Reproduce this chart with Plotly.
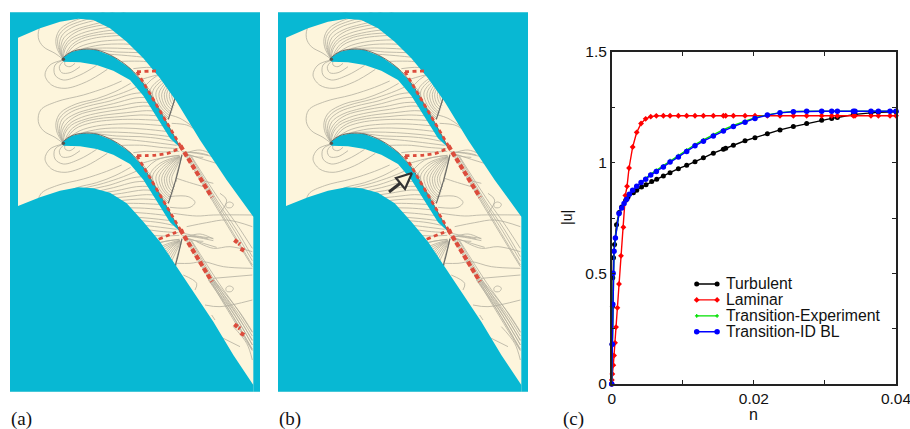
import plotly.graph_objects as go

# ---------- chart (c) data ----------
n_turb = [0,.00005,.0001,.00015,.00025,.0004,.00068,.00105,.0014,.00197,.0023,.00305,.00352,.0042,.00483,.00563,.00633,.00727,.00821,.00938,.01055,.01172,.0129,.0143,.01571,.01604,.01712,.01876,.02016,.0219,.02368,.02556,.02743,.02954,.03095,.03175,.034,.03423,.03648,.03752,.04]
u_turb = [0,.18,.35,.48,.57,.63,.72,.775,.80,.83,.845,.864,.875,.89,.90,.915,.925,.94,.955,.973,.988,1.004,1.022,1.043,1.061,1.065,1.079,1.099,1.113,1.131,1.148,1.163,1.177,1.192,1.2,1.204,1.217,1.218,1.225,1.228,1.23]
n_lam = [0,.00002,.00009,.00023,.00033,.00047,.00061,.0008,.00103,.00131,.00164,.00192,.00216,.00244,.00295,.00352,.00413,.00478,.00549,.00628,.00727,.00821,.00938,.01055,.01172,.0129,.0143,.01571,.01604,.01712,.01876,.02016,.0219,.02368,.02556,.02743,.02954,.03095,.03175,.034,.03423,.03648,.03752,.03916,.04]
u_lam = [0,.018,.045,.085,.129,.186,.257,.344,.452,.579,.708,.852,.893,.976,1.071,1.137,1.177,1.198,1.208,1.2115,1.212,1.212,1.212,1.212,1.212,1.212,1.212,1.212,1.212,1.212,1.212,1.212,1.212,1.212,1.212,1.212,1.212,1.212,1.212,1.212,1.212,1.212,1.212,1.212,1.212]
n_trans = [0,.00008,.00015,.0002,.00033,.00052,.00103,.00141,.00174,.00211,.00249,.00295,.00352,.00413,.00478,.00549,.00628,.00727,.00821,.00938,.01055,.01172,.0129,.0143,.01571,.01712,.01876,.02016,.0219,.02368,.02556,.02743,.02954,.03095,.03175,.034,.03423,.03648,.03752,.03916,.04]
u_blue = [0,.18,.36,.5,.6,.66,.77,.795,.816,.835,.857,.875,.893,.91,.925,.944,.96,.98,1.003,1.026,1.051,1.076,1.097,1.121,1.143,1.163,1.183,1.2,1.215,1.225,1.23,1.232,1.232,1.232,1.232,1.232,1.232,1.232,1.232,1.232,1.232]
u_green = [0,.18,.36,.5,.6,.66,.77,.795,.816,.835,.857,.875,.893,.91,.928,.948,.965,.986,1.009,1.032,1.057,1.082,1.103,1.127,1.149,1.168,1.187,1.203,1.216,1.226,1.231,1.233,1.233,1.233,1.233,1.233,1.233,1.233,1.233,1.233,1.233]
x_ticks = [0,.01,.02,.03,.04]
x_labels = ["0","","0.02","","0.04"]
y_ticks = [0,.25,.5,.75,1,1.25,1.5]
y_labels = ["0","","0.5","","1","","1.5"]
legend_names = ["Turbulent","Laminar","Transition-Experiment","Transition-ID BL"]

# ---------- flow-field panels (3x picture units) ----------
domain_upper = [(54,113),(120,85),(180,65),(235,56),(280,60),(330,85),(380,125),(430,175),(480,235),(530,305),(600,420),(680,540),(760,650)]
domain_lower = [(54,618),(120,592),(180,572),(235,562),(280,565),(330,578),(380,610),(430,665),(480,725),(530,800),(580,875),(640,965),(700,1065),(760,1155)]
blade_upper = [(190,172),(215,155),(250,148),(290,150),(340,170),(390,205),(430,250),(470,315),(510,385),(542,445)]
blade_lower = [(510,415),(470,352),(430,287),(390,240),(340,212),(290,195),(240,187),(190,185)]
pitch = 252

# repeated in every passage, shifted by one pitch
fan_lines = [
 [(190,430),(165,412),(130,392),(115,365),(122,330),(170,305),(250,285),(320,262),(365,243)],
 [(190,430),(172,400),(168,368),(182,338),(228,312),(290,296),(345,275),(392,250)],
 [(190,430),(175,395),(175,362),(198,335),(245,315),(310,298),(370,278),(408,262)],
 [(190,430),(178,395),(185,360),(215,335),(265,318),(330,303),(395,282),(425,278)],
 [(190,430),(182,398),(192,365),(225,342),(280,325),(340,311),(405,294),(438,292)],
 [(190,430),(185,400),(200,370),(235,345),(290,330),(350,320),(410,308),(450,307)],
 [(190,430),(190,402),(208,372),(245,352),(300,338),(365,328),(430,318),(460,320)],
 [(190,430),(195,400),(215,375),(255,358),(310,346),(380,338),(440,332),(470,334)],
 [(192,428),(210,392),(245,368),(295,356),(360,350),(420,345),(480,348)],
 [(195,424),(225,387),(275,368),(335,360),(400,358),(490,362)],
 [(205,414),(240,392),(290,378),(355,372),(420,372),(498,378)],
 [(225,404),(300,387),(370,384),(440,388),(505,395)],
 [(250,398),(320,396),(385,398),(450,403),(512,410)],
 [(285,400),(350,408),(420,410),(480,416),(520,424)],
 [(320,414),(395,420),(450,426),(530,436)],
 [(365,436),(430,436),(480,442),(535,446)],
 [(400,458),(440,454),(490,456),(538,454)],
]
fan_shock = [
 [(540,468),(480,490),(450,525),(465,565),(505,610)],
 [(540,470),(488,492),(458,528),(472,568),(507,606)],
 [(540,470),(495,495),(468,530),(480,570),(510,600)],
 [(540,470),(500,498),(477,532),(488,570),(513,595)],
 [(540,470),(505,500),(485,535),(495,570),(515,590)],
 [(541,471),(510,503),(493,535),(502,568),(518,582)],
 [(542,472),(515,505),(500,535),(508,565),(520,575)],
 [(543,473),(520,508),(508,535),(514,560),(523,568)],
 [(543,474),(525,510),(515,535),(520,555),(525,560)],
 [(544,476),(532,515),(528,535),(530,545)],
 [(538,466),(470,480),(435,510)],
 [(538,466),(480,475),(425,490)],
 [(420,485),(440,510),(445,545),(470,590)],
 [(432,505),(455,530),(458,565),(485,610)],
]
le_loops = [
 [(190,180),(150,195),(135,225),(155,255),(195,265),(260,245),(322,208)],
 [(190,180),(165,195),(165,225),(190,240),(240,225),(290,196)],
 [(192,182),(178,200),(185,218),(210,218),(240,200)],
 [(195,182),(195,195),(210,200),(225,190)],
]
wake_lines = [
 [(556,465),(636,600),(696,700),(757,800)],
 [(560,465),(640,600),(700,700),(757,795)],
 [(565,465),(645,600),(705,695),(757,782)],
 [(570,465),(650,600),(710,690),(757,770)],
 [(575,470),(655,595),(715,680),(757,745)],
 [(545,455),(590,460),(640,470)],
 [(550,457),(592,458),(625,465)],
 [(555,460),(600,450),(640,465)],
 [(550,458),(610,478),(650,490)],
 [(552,462),(585,470),(610,472)],
]
far_lines = [
 [(510,345),(540,355),(585,385)],
 [(515,370),(560,375),(580,385)],
 [(505,590),(565,590),(585,607),(570,622),(510,622)],
 [(520,640),(590,648),(640,645),(760,645)],
 [(678,612),(688,606),(700,612),(695,622),(680,622),(678,612)],
 [(530,535),(560,545),(610,560)],
 [(600,540),(640,550)],
 [(660,580),(680,600),(660,640)],
]
last_lines = [
 [(550,700),(590,708),(640,715)],
 [(560,680),(620,668),(680,660),(757,680)],
 [(590,725),(640,745),(690,740),(757,755)],
 [(530,790),(570,790),(610,785),(670,800),(757,805)],
 [(550,825),(590,850),(585,870)],
 [(640,835),(757,825)],
 [(678,864),(688,858),(700,864),(695,874),(680,874),(678,864)],
 [(615,915),(660,920),(757,900)],
 [(635,945),(645,960)],
 [(660,1010),(720,1040)],
 [(625,840),(700,950),(757,1050)],
 [(628,840),(705,948),(757,1035)],
 [(632,838),(710,945),(757,1020)],
 [(636,838),(714,940),(757,1008)],
 [(640,838),(718,935),(757,995)],
 [(700,980),(740,1030),(757,1080)],
]
shock_line = [(546,464),(530,530),(505,610)]
red_long = [[(411,215),(541,437)],[(411,467),(541,689)]]
red_tail = [[(541,437),(636,592)],[(541,689),(636,845)]]
red_throat = [[(411,215),(468,213)],[(411,467),(470,465),(510,458),(548,438)],[(476,718),(520,700),(550,690)]]
red_clusters = [[(703,720),(720,733)],[(722,746),(736,754)],[(703,973),(720,986)],[(722,999),(736,1007)]]
le_points = [(190,178),(190,430)]
arrow_head = [(412,173),(396,178),(405,189),(412,173)]
arrow_tail = [(389,192),(400.5,183)]

TEAL = "#08b8d3"
CREAM = "#fdf5dc"
GREY = "#b3af9f"
RED = "#dc4c3c"
FONT = "Liberation Sans"

fig = go.Figure()

def add_path(pts, off, dy=0, **kw):
    xs = [p[0] / 3 + off for p in pts]
    ys = [(p[1] + dy) / 3 for p in pts]
    fig.add_trace(go.Scatter(x=xs, y=ys, mode="lines", hoverinfo="skip", showlegend=False, **kw))

def line(color=GREY, width=0.8, dash=None, shape="spline"):
    return dict(color=color, width=width, dash=dash, shape=shape)

def panel(off, clusters):
    add_path([(30,37),(780,37),(780,1175),(30,1175)], off, fill="toself", fillcolor=CREAM, line=dict(width=0))
    for k in (-pitch, 0, pitch):
        for c in fan_lines + fan_shock:
            add_path(c, off, k, line=line())
    for k in (0, pitch):
        for c in le_loops + wake_lines:
            add_path(c, off, k, line=line())
    for c in far_lines + last_lines:
        add_path(c, off, line=line())
    for k in (-pitch, 0, pitch):
        add_path(shock_line, off, k, line=line("#6a6a66", 1.2))
    top = [(30,37),(780,37),(780,1175),(760,1175)] + domain_upper[::-1] + [(54,618),(30,618)]
    bot = [(30,618)] + domain_lower + [(760,1175),(30,1175)]
    add_path([(24,-20),(790,-20),(790,37),(24,37)], off, fill="toself", fillcolor="white", line=dict(width=0))
    add_path(top, off, fill="toself", fillcolor=TEAL, line=dict(width=0))
    add_path(bot, off, fill="toself", fillcolor=TEAL, line=dict(width=0))
    for k in (0, pitch):
        add_path(blade_upper + blade_lower, off, k, fill="toself", fillcolor=TEAL, line=dict(width=0))
        add_path(blade_upper, off, k, line=line("#66625c", 0.9))
    fig.add_trace(go.Scatter(x=[p[0] / 3 + off for p in le_points], y=[p[1] / 3 for p in le_points], mode="markers",
                             marker=dict(color="#55544e", size=3.5), hoverinfo="skip", showlegend=False))
    for c in red_long:
        add_path(c, off, line=line(RED, 2.8, "4px,3.5px", "linear"))
    for c in red_tail:
        add_path(c, off, line=line(RED, 4.2, "5px,2.5px", "linear"))
    for c in red_throat:
        add_path(c, off, line=line(RED, 2.8, "4px,3.5px"))
    if clusters:
        for c in red_clusters:
            add_path(c, off, line=line(RED, 4.2, "4px,1.5px", "linear"))

panel(0, True)
panel(268, False)

fig.add_trace(go.Scatter(x=[p[0] for p in arrow_head], y=[p[1] for p in arrow_head], mode="lines",
                         fill="toself", fillcolor=CREAM, line=dict(color="#333333", width=2.2),
                         hoverinfo="skip", showlegend=False))
fig.add_trace(go.Scatter(x=[p[0] for p in arrow_tail], y=[p[1] for p in arrow_tail], mode="lines",
                         line=dict(color="#333333", width=3), hoverinfo="skip", showlegend=False))

# ---------- chart (c) ----------
series = [
    (n_turb, u_turb, "#000000", "circle", 5, legend_names[0]),
    (n_lam, u_lam, "#ff0000", "diamond", 4.5, legend_names[1]),
    (n_trans, u_green, "#00e000", "cross", 3, legend_names[2]),
    (n_trans, u_blue, "#0000ff", "circle", 5.5, legend_names[3]),
]
for xs, ys, col, sym, size, name in series:
    fig.add_trace(go.Scatter(x=xs, y=ys, xaxis="x2", yaxis="y2", mode="lines+markers", name=name,
                             line=dict(color=col, width=1.4), marker=dict(color=col, symbol=sym, size=size),
                             cliponaxis=False, showlegend=False))

annotations = []
key_x = (0.01196, 0.01483)
key_y = [.452, .380, .308, .236]
for (xs, ys, col, sym, size, name), ky in zip(series, key_y):
    fig.add_trace(go.Scatter(x=key_x, y=[ky, ky], xaxis="x2", yaxis="y2", mode="lines+markers",
                             line=dict(color=col, width=1.4), marker=dict(color=col, symbol=sym, size=size),
                             hoverinfo="skip", showlegend=False))
    annotations.append(dict(x=0.0158, y=ky, xref="x2", yref="y2", text=name, showarrow=False, xanchor="left",
                            yanchor="middle", font=dict(family=FONT, size=15.8, color="#111111")))

for txt, px in (("(a)", 9), ("(b)", 277), ("(c)", 561)):
    annotations.append(dict(x=px, y=419, xref="x", yref="y", text=txt, showarrow=False, xanchor="left",
                            yanchor="middle", font=dict(family="Liberation Serif", size=19, color="#111111")))
annotations.append(dict(x=567, y=218, xref="x", yref="y", text="|u|", showarrow=False, textangle=-90,
                        font=dict(family=FONT, size=14, color="#111111")))
annotations.append(dict(x=753, y=414, xref="x", yref="y", text="n", showarrow=False,
                        font=dict(family=FONT, size=16, color="#111111")))

axis_style = dict(showgrid=False, zeroline=False, showline=True, linecolor="#222222", linewidth=1.5,
                  ticks="inside", ticklen=4, tickwidth=1, tickcolor="#222222", mirror="allticks",
                  ticklabeloverflow="allow",
                  tickfont=dict(family=FONT, size=15.5, color="#111111"))
fig.update_layout(
    width=910, height=429, margin=dict(l=0, r=0, t=0, b=0, autoexpand=False),
    paper_bgcolor="white", plot_bgcolor="rgba(0,0,0,0)", showlegend=False,
    xaxis=dict(domain=[0, 1], range=[0, 910], visible=False, fixedrange=True),
    yaxis=dict(domain=[0, 1], range=[429, 0], visible=False, fixedrange=True),
    xaxis2=dict(domain=[611.7 / 910, 896 / 910], range=[0, .04], anchor="y2", tickmode="array",
                tickvals=x_ticks, ticktext=x_labels, **axis_style),
    yaxis2=dict(domain=[45 / 429, 377 / 429], range=[0, 1.5], anchor="x2", tickmode="array",
                tickvals=y_ticks, ticktext=y_labels, **axis_style),
    annotations=annotations,
)
fig.write_html("out.html", config={"displayModeBar": False},
               post_script="document.body.style.margin='0';")
